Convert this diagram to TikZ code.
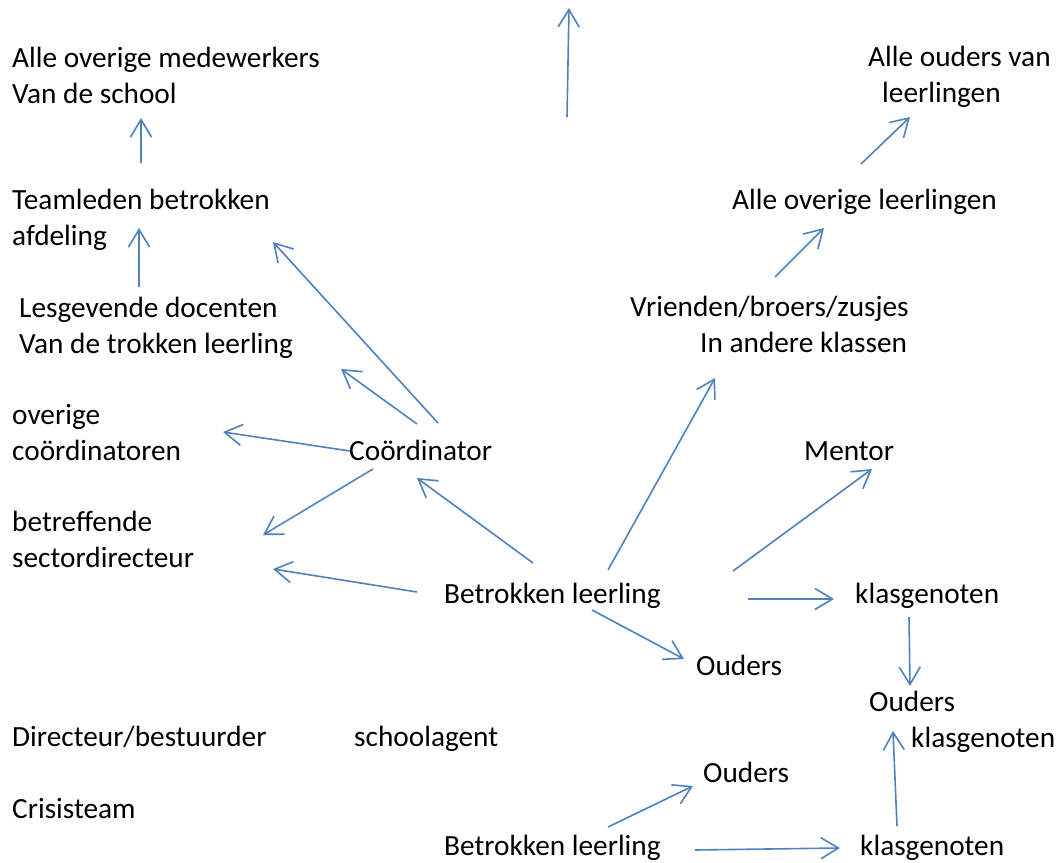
\documentclass[tikz,border=0pt]{standalone}
\usepackage{fontspec}
\setmainfont{Carlito}
\usepackage{tikz}
\usetikzlibrary{positioning,arrows.meta}
\definecolor{cLine}{HTML}{4F81BD}
\tikzset{
  lbl/.style={anchor=base west,align=left,inner sep=0pt,font=\fontsize{29.3}{36}\selectfont},
  arr/.style={-{Straight Barb[length=17.5pt,width=21pt]},line width=1.6pt,draw=cLine}}
\begin{document}
\begin{tikzpicture}[x=1pt,y=-1pt]
\useasboundingbox (0,0) rectangle (1057,862);
% left column (base = last line)
\node[lbl] (medew) at (12,103) {Alle overige medewerkers\\Van de school};
\node[lbl] (teamleden) at (12,245) {Teamleden betrokken\\afdeling};
\node[lbl] (lesgevend) at (19,353) {Lesgevende docenten\\Van de trokken leerling};
\node[lbl] (overcoord) at (12,460) {overige\\coördinatoren};
\node[lbl] (sectordir) at (12,567) {betreffende\\sectordirecteur};
\node[lbl] (directeur) at (12,746) {Directeur/bestuurder};
\node[lbl] (crisis) at (12,818) {Crisisteam};
% middle
\node[lbl] (coord) at (349,460) {Coördinator};
\node[lbl] (betrokken) at (444,603) {Betrokken leerling};
\node[lbl] (ouders) at (696,675) {Ouders};
\node[lbl] (schoolagent) at (354,746) {schoolagent};
\node[lbl] (ouders2) at (703,782) {Ouders};
\node[lbl] (betrokken2) at (444,855) {Betrokken leerling};
% right column
\node[lbl] (alleouders) at (868,102) {Alle ouders van\\\hspace*{14pt}leerlingen};
\node[lbl] (overleerl) at (732,209) {Alle overige leerlingen};
\node[lbl] (vrienden) at (630,352) {Vrienden/broers/zusjes\\\hspace*{70pt}In andere klassen};
\node[lbl] (mentor) at (804,460) {Mentor};
\node[lbl] (klasgen) at (855,603) {klasgenoten};
\node[lbl] (oudersklas) at (869,747) {Ouders\\\hspace*{42pt}klasgenoten};
\node[lbl] (klasgen2) at (860,855) {klasgenoten};
\coordinate (upT) at (567,117);
\coordinate (upH) at (569,8);
% connectors
\draw[arr] (upT) -- (upH);
\draw[arr] ([shift={(129,-82)}]teamleden.base west) -- ([shift={(129,15)}]medew.base west);
\draw[arr] ([shift={(120,-66)}]lesgevend.base west) -- ([shift={(127,-17)}]teamleden.base west);
\draw[arr] ([shift={(89,-37)}]coord.base west) -- ([shift={(261,-3)}]teamleden.base west);
\draw[arr] ([shift={(68,-36)}]coord.base west) -- ([shift={(322,16)}]lesgevend.base west);
\draw[arr] ([shift={(1,-9)}]coord.base west) -- ([shift={(211,-28)}]overcoord.base west);
\draw[arr] ([shift={(24,9)}]coord.base west) -- ([shift={(251,-32)}]sectordir.base west);
\draw[arr] ([shift={(-27,-11)}]betrokken.base west) -- ([shift={(261,2)}]sectordir.base west);
\draw[arr] ([shift={(89,-40)}]betrokken.base west) -- ([shift={(68,18)}]coord.base west);
\draw[arr] ([shift={(164,-33)}]betrokken.base west) -- ([shift={(85,26)}]vrienden.base west);
\draw[arr] ([shift={(289,-32)}]betrokken.base west) -- ([shift={(68,9)}]mentor.base west);
\draw[arr] ([shift={(304,-4)}]betrokken.base west) -- ([shift={(-21,-4)}]klasgen.base west);
\draw[arr] ([shift={(148,7)}]betrokken.base west) -- ([shift={(-12,-16)}]ouders.base west);
\draw[arr] ([shift={(54,14)}]klasgen.base west) -- ([shift={(41,-61)}]oudersklas.base west);
\draw[arr] ([shift={(37,-29)}]klasgen2.base west) -- ([shift={(24,-16)}]oudersklas.base west);
\draw[arr] ([shift={(164,-28)}]betrokken2.base west) -- ([shift={(-10,4)}]ouders2.base west);
\draw[arr] ([shift={(251,-5)}]betrokken2.base west) -- ([shift={(-20,-7)}]klasgen2.base west);
\draw[arr] ([shift={(129,-45)}]overleerl.base west) -- ([shift={(42,15)}]alleouders.base west);
\draw[arr] ([shift={(145,-75)}]vrienden.base west) -- ([shift={(92,19)}]overleerl.base west);
\end{tikzpicture}
\end{document}
